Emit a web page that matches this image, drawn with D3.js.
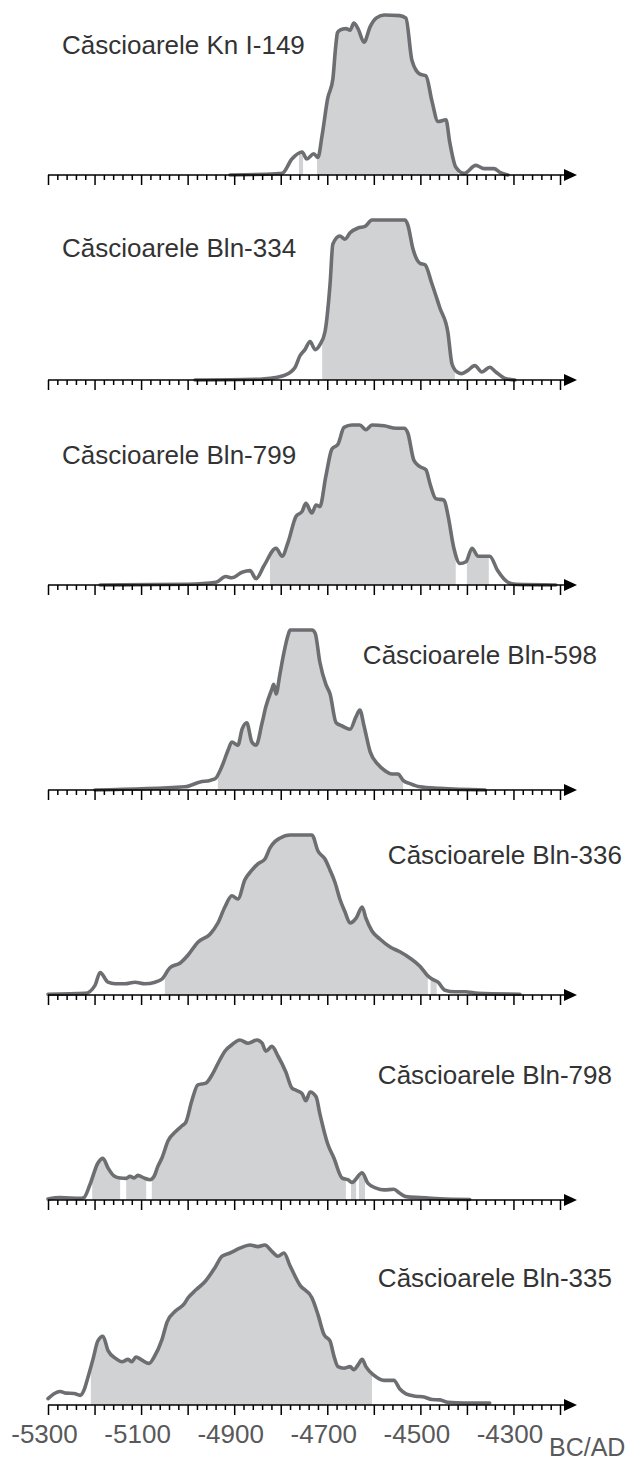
<!DOCTYPE html>
<html>
<head>
<meta charset="utf-8">
<script src="https://cdn.jsdelivr.net/npm/d3@7"></script>
<style>
  body { margin: 0; background: #fff; }
  svg { display: block; }
  text { font-family: "Liberation Sans", Arial, sans-serif; }
</style>
</head>
<body>
<svg width="628" height="1461"></svg>
<script>
// --- data: [year, relative probability] ---
var names = ["Căscioarele Kn I-149", "Căscioarele Bln-334", "Căscioarele Bln-799",
  "Căscioarele Bln-598", "Căscioarele Bln-336", "Căscioarele Bln-798", "Căscioarele Bln-335"];

var knI149 = [[-4909,0],[-4810,0.008],[-4797,0.01],[-4776,0.10],[-4754,0.144],[-4744,0.10],[-4729,0.133],
  [-4720,0.11],[-4711,0.25],[-4699,0.48],[-4688,0.6],[-4682,0.8],[-4678,0.89],[-4673,0.905],[-4660,0.915],
  [-4651,0.905],[-4643,0.95],[-4634,0.915],[-4621,0.83],[-4608,0.926],[-4595,0.98],[-4578,1.0],[-4544,0.996],
  [-4531,0.98],[-4518,0.715],[-4501,0.63],[-4488,0.62],[-4475,0.46],[-4462,0.334],[-4445,0.345],[-4437,0.207],
  [-4424,0.05],[-4406,0.01],[-4381,0.06],[-4363,0.04],[-4342,0.04],[-4329,0.017],[-4312,0]];
var bln334 = [[-4984,0],[-4845,0.005],[-4823,0.01],[-4791,0.03],[-4769,0.08],[-4759,0.15],[-4748,0.19],
  [-4737,0.24],[-4726,0.19],[-4716,0.22],[-4705,0.3],[-4694,0.6],[-4688,0.85],[-4673,0.9],[-4662,0.88],
  [-4651,0.92],[-4634,0.95],[-4619,0.96],[-4604,1.0],[-4533,1.0],[-4527,0.97],[-4516,0.82],[-4501,0.73],
  [-4490,0.72],[-4475,0.6],[-4458,0.45],[-4441,0.3],[-4432,0.1],[-4421,0.05],[-4411,0.04],[-4398,0.06],
  [-4383,0.09],[-4368,0.05],[-4351,0.08],[-4338,0.05],[-4318,0.01],[-4297,0]];
var bln799 = [[-5188,0],[-4999,0.005],[-4939,0.017],[-4918,0.053],[-4905,0.045],[-4883,0.08],[-4866,0.09],
  [-4853,0.04],[-4836,0.12],[-4810,0.23],[-4797,0.18],[-4784,0.27],[-4767,0.43],[-4754,0.46],[-4746,0.51],
  [-4733,0.45],[-4724,0.5],[-4716,0.49],[-4703,0.68],[-4690,0.85],[-4677,0.88],[-4664,0.985],[-4647,1.0],
  [-4630,1.0],[-4617,0.97],[-4604,1.0],[-4578,0.995],[-4552,0.98],[-4535,0.98],[-4527,0.95],[-4514,0.78],
  [-4501,0.74],[-4488,0.72],[-4479,0.63],[-4467,0.54],[-4449,0.53],[-4441,0.44],[-4428,0.23],[-4415,0.134],
  [-4402,0.145],[-4389,0.23],[-4376,0.18],[-4363,0.18],[-4351,0.18],[-4334,0.09],[-4312,0.017],[-4295,0.004],[-4209,0]];
var bln598 = [[-5199,0],[-5006,0.02],[-4973,0.05],[-4952,0.06],[-4941,0.07],[-4926,0.15],[-4913,0.25],
  [-4905,0.3],[-4892,0.28],[-4883,0.38],[-4873,0.42],[-4862,0.3],[-4853,0.28],[-4840,0.42],[-4832,0.52],
  [-4819,0.63],[-4815,0.66],[-4810,0.6],[-4802,0.72],[-4793,0.86],[-4784,0.97],[-4780,1.0],[-4733,1.0],[-4726,0.98],
  [-4716,0.8],[-4703,0.66],[-4694,0.6],[-4681,0.42],[-4668,0.4],[-4651,0.38],[-4638,0.46],[-4630,0.5],
  [-4621,0.4],[-4608,0.24],[-4591,0.16],[-4576,0.12],[-4561,0.1],[-4548,0.1],[-4537,0.06],[-4522,0.04],
  [-4501,0.02],[-4458,0.01],[-4361,0]];
var bln336 = [[-5300,0.005],[-5220,0.01],[-5199,0.06],[-5188,0.14],[-5171,0.08],[-5156,0.07],[-5135,0.07],
  [-5113,0.08],[-5092,0.07],[-5070,0.08],[-5055,0.1],[-5038,0.17],[-5016,0.2],[-4999,0.25],[-4978,0.33],
  [-4952,0.38],[-4935,0.45],[-4920,0.55],[-4905,0.62],[-4892,0.6],[-4877,0.72],[-4862,0.78],[-4849,0.82],
  [-4834,0.85],[-4823,0.92],[-4812,0.96],[-4802,0.98],[-4780,1.0],[-4733,1.0],[-4720,0.9],[-4705,0.85],
  [-4694,0.78],[-4683,0.7],[-4673,0.6],[-4662,0.52],[-4651,0.45],[-4638,0.48],[-4625,0.55],[-4617,0.48],
  [-4604,0.4],[-4587,0.35],[-4565,0.3],[-4544,0.27],[-4522,0.23],[-4501,0.18],[-4484,0.12],[-4475,0.1],
  [-4462,0.08],[-4447,0.03],[-4426,0.02],[-4404,0.02],[-4376,0.01],[-4286,0.005]];
var bln798 = [[-5300,0.006],[-5274,0.015],[-5231,0.01],[-5223,0.015],[-5210,0.095],[-5193,0.23],[-5182,0.26],
  [-5171,0.2],[-5158,0.15],[-5145,0.137],[-5132,0.135],[-5124,0.148],[-5115,0.138],[-5107,0.154],[-5094,0.138],
  [-5081,0.127],[-5072,0.148],[-5064,0.21],[-5055,0.264],[-5042,0.37],[-5025,0.43],[-5012,0.464],[-5004,0.485],
  [-4991,0.62],[-4978,0.72],[-4961,0.73],[-4948,0.78],[-4931,0.875],[-4920,0.93],[-4905,0.97],[-4888,1.0],
  [-4870,0.98],[-4851,1.0],[-4840,0.98],[-4832,0.93],[-4819,0.96],[-4806,0.9],[-4789,0.8],[-4776,0.7],
  [-4767,0.686],[-4754,0.665],[-4746,0.62],[-4737,0.675],[-4724,0.645],[-4716,0.54],[-4699,0.35],[-4686,0.264],
  [-4668,0.137],[-4656,0.127],[-4647,0.11],[-4625,0.17],[-4613,0.105],[-4595,0.074],[-4578,0.063],[-4557,0.067],
  [-4544,0.042],[-4531,0.021],[-4501,0.015],[-4458,0.008],[-4394,0.003]];
var bln335 = [[-5300,0.04],[-5287,0.07],[-5274,0.084],[-5261,0.074],[-5244,0.072],[-5231,0.06],[-5223,0.09],
  [-5214,0.175],[-5203,0.29],[-5193,0.4],[-5182,0.43],[-5171,0.34],[-5154,0.29],[-5141,0.27],[-5128,0.285],
  [-5120,0.27],[-5111,0.3],[-5098,0.28],[-5083,0.26],[-5072,0.3],[-5055,0.41],[-5044,0.52],[-5025,0.59],
  [-5008,0.63],[-4999,0.67],[-4982,0.72],[-4963,0.77],[-4941,0.86],[-4926,0.93],[-4909,0.95],[-4888,0.98],
  [-4866,1.0],[-4849,0.99],[-4834,1.0],[-4819,0.96],[-4806,0.93],[-4793,0.95],[-4780,0.87],[-4759,0.75],
  [-4733,0.67],[-4720,0.565],[-4707,0.44],[-4694,0.4],[-4686,0.31],[-4677,0.24],[-4664,0.23],[-4651,0.24],
  [-4643,0.22],[-4634,0.25],[-4625,0.285],[-4617,0.24],[-4600,0.186],[-4578,0.154],[-4557,0.154],[-4544,0.1],
  [-4531,0.07],[-4510,0.055],[-4492,0.05],[-4475,0.034],[-4458,0.032],[-4441,0.017],[-4406,0.012],[-4351,0.012]];

// shaded (95.4%) ranges, in years
var ranges = [
  [[-4761,-4752],[-4722,-4419]],
  [[-4711,-4426]],
  [[-4823,-4424],[-4400,-4353]],
  [[-4935,-4537]],
  [[-5049,-4484],[-4478,-4465]],
  [[-5205,-5145],[-5132,-5089],[-5077,-4660],[-4649,-4638],[-4632,-4619]],
  [[-5208,-4604]]
];
var curves = [knI149, bln334, bln799, bln598, bln336, bln798, bln335];
var axisLabels = [-5300, -5100, -4900, -4700, -4500, -4300];

// --- layout ---
var svg = d3.select("svg");
var firstAxis = 175, step = 205, panelH = 160;
// title placement: left edge for the first three, right edge for the rest
var titleX = [62, 62, 62, 597, 622, 612, 612];
var titleY = [54, 257, 464, 664, 864, 1084, 1287];

var x = d3.scaleLinear().domain([-5300, -4200]).range([48, 560]);
var ticks = d3.range(-5300, -4199, 20);

curves.forEach(function(data, i) {
  var base = firstAxis + i * step;
  var y = d3.scaleLinear().domain([0, 1]).range([base, base - panelH]);
  var g = svg.append("g");

  var clipId = "clip" + i;
  g.append("clipPath").attr("id", clipId)
    .selectAll("rect").data(ranges[i]).enter().append("rect")
      .attr("x", function(r) { return x(r[0]); })
      .attr("width", function(r) { return x(r[1]) - x(r[0]); })
      .attr("y", base - panelH - 10)
      .attr("height", panelH + 10);

  var area = d3.area()
    .x(function(d) { return x(d[0]); })
    .y0(base)
    .y1(function(d) { return y(d[1]); })
    .curve(d3.curveMonotoneX);

  var line = d3.line()
    .x(function(d) { return x(d[0]); })
    .y(function(d) { return y(d[1]); })
    .curve(d3.curveMonotoneX);

  g.append("path").datum(data)
    .attr("d", area)
    .attr("clip-path", "url(#" + clipId + ")")
    .style("fill", "#d1d2d4");

  g.append("path").datum(data)
    .attr("d", line)
    .style("fill", "none")
    .style("stroke", "#6d6e71")
    .style("stroke-width", 3.6)
    .style("stroke-linejoin", "round")
    .style("stroke-linecap", "round");

  // axis
  var ax = g.append("g").attr("transform", "translate(0," + base + ")")
    .call(d3.axisBottom(x).tickValues(ticks).tickSize(5).tickSizeOuter(0)
      .tickFormat(function(d) { return (i == 6 && axisLabels.indexOf(d) >= 0) ? d : ""; }));
  ax.select(".domain").remove();
  ax.selectAll(".tick line")
    .attr("y2", function(d) { return (d + 5300) % 100 == 0 ? 10 : 5; })
    .style("stroke", "#000").style("stroke-width", 1.5);
  ax.selectAll(".tick text")
    .attr("y", 20).attr("dx", -4)
    .style("font-size", "26px").style("fill", "#58595b");
  ax.append("line").attr("x1", 48).attr("x2", 566).attr("y1", 0).attr("y2", 0)
    .style("stroke", "#000").style("stroke-width", 1.6);
  ax.append("path").attr("d", "M564,-6L577,0L564,6Z").style("fill", "#000");

  g.append("text")
    .attr("x", titleX[i])
    .attr("y", titleY[i])
    .attr("text-anchor", i < 3 ? "start" : "end")
    .style("font-size", "26px").style("fill", "#333")
    .text(names[i]);
});

svg.append("text").attr("x", 549).attr("y", 1456)
  .style("font-size", "25px").style("fill", "#58595b").text("BC/AD");
</script>
</body>
</html>
